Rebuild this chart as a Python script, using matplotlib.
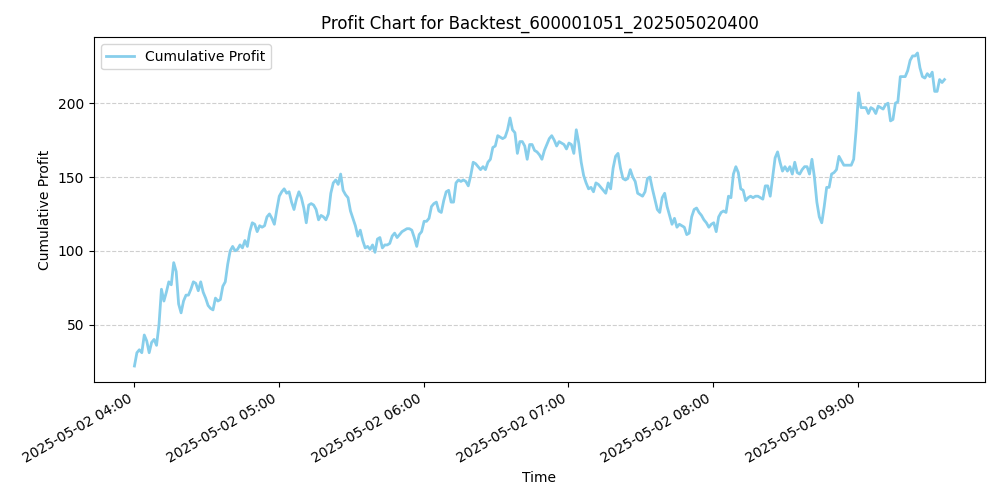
import matplotlib
matplotlib.use("Agg")
import matplotlib.pyplot as plt
import matplotlib.dates as mdates
import pandas as pd

# Profit cumulé (à peu près une valeur par minute)
profit = [22, 31, 33, 31, 43, 39, 31, 38, 40, 36, 50, 74, 66, 72, 79, 77, 92, 86, 64, 58,
          66, 70, 70, 74, 79, 78, 73, 79, 72, 68, 63, 61, 60, 68, 66, 67, 76, 79, 91, 100,
          103, 100, 101, 104, 102, 107, 103, 113, 119, 118, 113, 117, 116, 117, 123, 125, 122, 118, 128, 137,
          140, 142, 139, 140, 133, 128, 135, 140, 136, 129, 119, 131, 132, 131, 128, 121, 124, 123, 121, 125,
          139, 146, 148, 145, 152, 141, 138, 136, 127, 122, 117, 110, 114, 107, 102, 103, 101, 104, 99, 108,
          109, 102, 104, 104, 105, 110, 112, 109, 111, 113, 114, 115, 115, 114, 109, 103, 111, 113, 120, 120,
          122, 130, 132, 133, 127, 126, 134, 140, 141, 133, 133, 146, 148, 147, 148, 147, 144, 151, 160, 159,
          157, 155, 157, 155, 160, 162, 170, 171, 178, 177, 176, 177, 182, 190, 182, 180, 166, 174, 174, 171,
          162, 172, 172, 168, 167, 165, 162, 168, 172, 176, 178, 175, 171, 174, 173, 172, 169, 173, 172, 166,
          182, 173, 160, 151, 146, 142, 143, 140, 146, 145, 143, 141, 139, 146, 142, 156, 164, 166, 156, 149,
          148, 149, 155, 150, 147, 139, 138, 137, 140, 149, 150, 142, 135, 128, 126, 136, 139, 130, 124, 118,
          122, 116, 118, 117, 116, 111, 112, 123, 128, 129, 126, 124, 121, 119, 116, 118, 119, 113, 123, 126,
          127, 126, 137, 136, 152, 157, 153, 142, 141, 134, 136, 137, 136, 137, 137, 136, 135, 144, 144, 137,
          150, 163, 167, 160, 154, 157, 154, 157, 152, 160, 153, 152, 155, 157, 157, 152, 162, 150, 133, 123,
          119, 130, 143, 143, 152, 153, 155, 164, 161, 158, 158, 158, 158, 162, 182, 207, 197, 197, 197, 193,
          197, 196, 193, 198, 197, 196, 199, 200, 188, 189, 200, 201, 218, 218, 218, 222, 229, 232, 232, 234,
          224, 218, 217, 220, 218, 221, 208, 208, 216, 214, 216]

t_debut = "2025-05-02 04:00"
t_fin = "2025-05-02 09:36"
temps = pd.date_range(t_debut, t_fin, periods=len(profit))

fig, ax = plt.subplots(figsize=(10, 5), dpi=100)
ax.plot(temps, profit, color="skyblue", linewidth=2, label="Cumulative Profit")
ax.set_title("Profit Chart for Backtest_600001051_202505020400")
ax.set_xlabel("Time")
ax.set_ylabel("Cumulative Profit")
ax.grid(axis="y", linestyle="--", alpha=0.6)
ax.legend(loc="upper left")
ax.xaxis.set_major_locator(mdates.HourLocator())
ax.xaxis.set_major_formatter(mdates.DateFormatter("%Y-%m-%d %H:%M"))
fig.autofmt_xdate()
fig.tight_layout()
fig.savefig("out.png")
